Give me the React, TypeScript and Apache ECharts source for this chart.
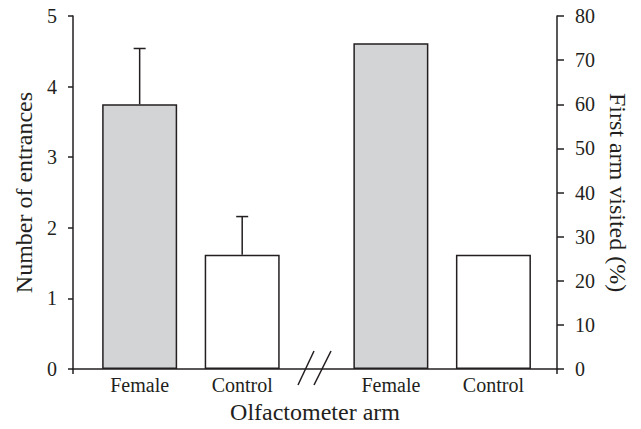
import React, { useEffect, useRef } from "react";
import * as echarts from "echarts";

const categories = ["Female", "Control", "Female", "Control"];
const positions = [1, 2, 3.45, 4.45];
const entrances = [3.75, 1.62];
const entrancesSE = [0.79, 0.54];
const firstArm = [73.8, 25.9];
const barColors = ["#d3d4d6", "#ffffff"];
const leftAxisTitle = "Number of entrances";
const rightAxisTitle = "First arm visited (%)";
const xAxisTitle = "Olfactometer arm";

const INK = "#231f20";
const FONT = "Liberation Serif";

export default function App() {
  const ref = useRef<HTMLDivElement>(null);
  useEffect(() => {
    if (!ref.current) return;
    const chart = echarts.init(ref.current, undefined, { renderer: "svg" });
    const xMin = 0.35;
    const xMax = 5.07;
    const labelFor = (v: number) => {
      const i = positions.findIndex((p) => Math.abs(p - v) < 1e-6);
      return i >= 0 ? categories[i] : "";
    };
    const barStyle = (i: number) => ({
      color: barColors[i % 2],
      borderColor: INK,
      borderWidth: 1.5,
    });
    chart.setOption({
      animation: false,
      backgroundColor: "#ffffff",
      grid: { left: 73, right: 84, top: 16, bottom: 59.5, containLabel: false },
      xAxis: {
        type: "value",
        min: xMin,
        max: xMax,
        splitLine: { show: false },
        axisLine: { show: true, onZero: false, lineStyle: { color: INK, width: 1.5 } },
        axisTick: { show: true, customValues: [xMin, xMax], length: 5, lineStyle: { color: INK, width: 1.5 } },
        axisLabel: {
          customValues: positions,
          formatter: (v: number) => labelFor(v),
          color: INK,
          fontFamily: FONT,
          fontSize: 20,
          margin: 6,
        },
        name: xAxisTitle,
        nameLocation: "middle",
        nameGap: 28,
        nameTextStyle: { color: INK, fontFamily: FONT, fontSize: 24 },
      },
      yAxis: [
        {
          type: "value",
          min: 0,
          max: 5,
          interval: 1,
          position: "left",
          splitLine: { show: false },
          axisLine: { show: true, lineStyle: { color: INK, width: 1.5 } },
          axisTick: { show: true, length: 5, lineStyle: { color: INK, width: 1.5 } },
          axisLabel: { color: INK, fontFamily: FONT, fontSize: 20, margin: 16 },
          name: leftAxisTitle,
          nameLocation: "middle",
          nameGap: 37,
          nameTextStyle: { color: INK, fontFamily: FONT, fontSize: 24 },
        },
        {
          type: "value",
          min: 0,
          max: 80,
          interval: 10,
          position: "right",
          splitLine: { show: false },
          axisLine: { show: true, lineStyle: { color: INK, width: 1.5 } },
          axisTick: { show: true, length: 7, lineStyle: { color: INK, width: 1.5 } },
          axisLabel: { color: INK, fontFamily: FONT, fontSize: 20, margin: 18 },
          name: rightAxisTitle,
          nameLocation: "middle",
          nameGap: 48,
          nameRotate: -90,
          nameTextStyle: { color: INK, fontFamily: FONT, fontSize: 24 },
        },
      ],
      series: [
        {
          type: "bar",
          yAxisIndex: 0,
          barWidth: 75,
          barGap: "-100%",
          data: entrances.map((v, i) => ({ value: [positions[i], v], itemStyle: barStyle(i) })),
        },
        {
          type: "bar",
          yAxisIndex: 1,
          barWidth: 75,
          barGap: "-100%",
          data: firstArm.map((v, i) => ({ value: [positions[i + 2], v], itemStyle: barStyle(i) })),
        },
        {
          type: "custom",
          yAxisIndex: 0,
          z: 1,
          data: entrances.map((v, i) => [positions[i], v, v + entrancesSE[i]]),
          renderItem: (_params: any, api: any) => {
            const x = api.value(0);
            const base = api.coord([x, api.value(1)]);
            const top = api.coord([x, api.value(2)]);
            const half = 6;
            return {
              type: "group",
              children: [
                {
                  type: "line",
                  shape: { x1: base[0], y1: base[1], x2: top[0], y2: top[1] },
                  style: { stroke: INK, lineWidth: 1.5 },
                },
                {
                  type: "line",
                  shape: { x1: top[0] - half, y1: top[1], x2: top[0] + half, y2: top[1] },
                  style: { stroke: INK, lineWidth: 1.5 },
                },
              ],
            };
          },
        },
      ],
      graphic: [
        {
          type: "line",
          shape: { x1: 298, y1: 385, x2: 314, y2: 351 },
          style: { stroke: INK, lineWidth: 1.5 },
          z: 100,
        },
        {
          type: "line",
          shape: { x1: 314, y1: 385, x2: 331, y2: 351 },
          style: { stroke: INK, lineWidth: 1.5 },
          z: 100,
        },
      ],
    });
    return () => chart.dispose();
  }, []);
  return <div ref={ref} style={{ width: 641, height: 429, position: "absolute", left: 0, top: 0 }} />;
}
